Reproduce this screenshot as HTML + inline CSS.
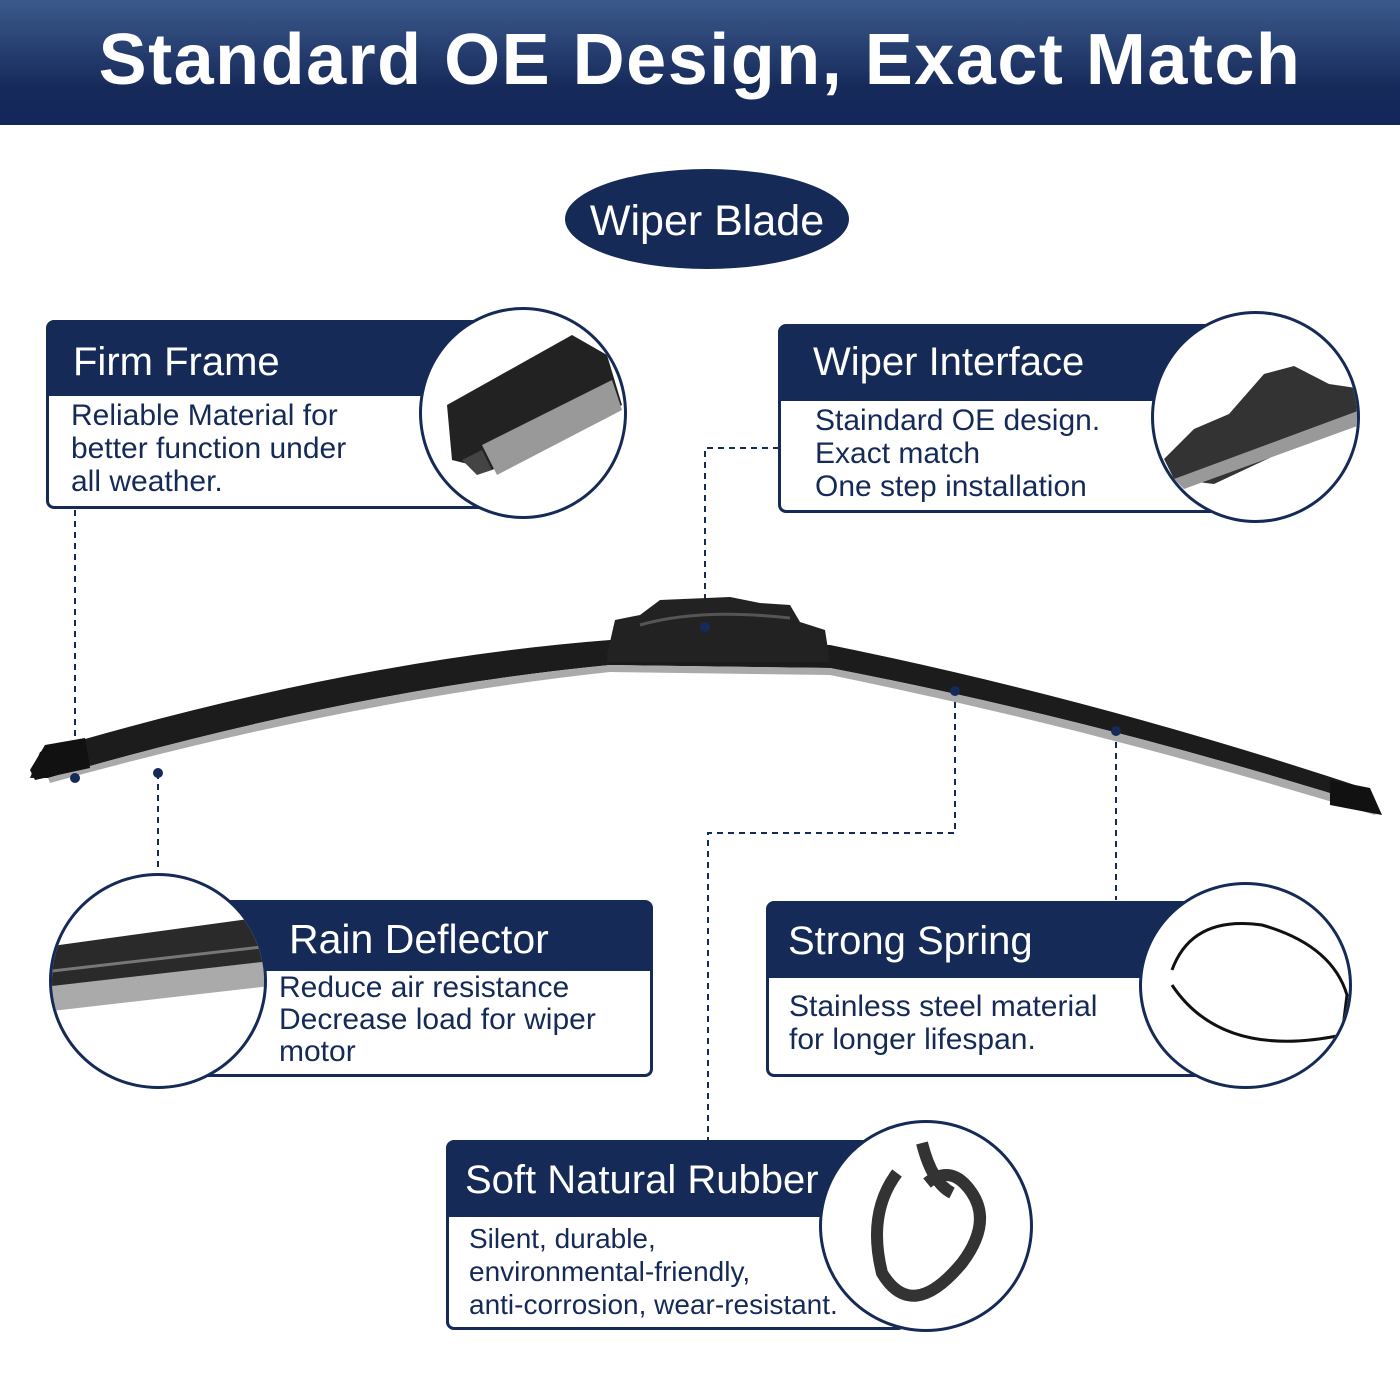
<!DOCTYPE html>
<html><head><meta charset="utf-8"><style>
html,body{margin:0;padding:0;background:#fff;}
body{width:1400px;height:1400px;position:relative;overflow:hidden;font-family:"Liberation Sans",Arial,sans-serif;}
.hdr{position:absolute;left:0;top:0;width:1400px;height:125px;background:linear-gradient(#3b5a8c,#162a5a 70%,#13265a);color:#fff;font-weight:bold;font-size:72px;text-align:center;line-height:120px;letter-spacing:1.5px;}
.box{position:absolute;border:3px solid #162a57;border-radius:8px;background:#fff;box-sizing:border-box;}
.box .t{background:#162a57;color:#fff;font-size:40px;box-sizing:border-box;}
.box .b{color:#162a57;font-size:30px;line-height:33px;}
.circ{position:absolute;border:3px solid #162a57;border-radius:50%;background:#fff;box-sizing:border-box;overflow:hidden;}
svg{position:absolute;left:0;top:0;}
</style></head><body>
<div class="hdr">Standard OE Design, Exact Match</div>
<svg width="1400" height="1400">
<ellipse cx="707" cy="219" rx="142" ry="50" fill="#162a57"/>
<text x="707" y="235" fill="#fff" font-size="43" text-anchor="middle" font-family="Liberation Sans">Wiper Blade</text>
<g stroke="#162a57" stroke-width="2" stroke-dasharray="6,5" fill="none">
<path d="M75 510 V778"/><path d="M158 773 V870"/><path d="M779 448 H705 V627"/>
<path d="M955 691 V833 H708 V1140"/><path d="M1116 731 V900"/>
</g>
<path d="M40 752 Q350 660 610 640 L830 645 Q1100 700 1370 790 L1378 808 Q1100 720 830 668 L610 665 Q350 690 48 778 L30 778 Z" fill="#1c1c1c"/>
<path d="M48 778 Q350 690 610 665 L830 668 Q1100 720 1378 808 L1375 815 Q1100 730 830 675 L610 672 Q350 700 50 783 Z" fill="#aaa"/>
<path d="M30 770 L45 745 L85 738 L90 768 L35 780 Z" fill="#111"/>
<path d="M1330 780 L1370 788 L1382 815 L1330 805 Z" fill="#111"/>
<path d="M607 655 L615 620 L640 615 L660 600 L730 597 L760 603 L790 605 L800 622 L825 630 L830 662 L607 662 Z" fill="#222"/>
<path d="M640 625 Q700 608 790 618" stroke="#555" stroke-width="3" fill="none"/>
<g fill="#162a57"><circle cx="75" cy="778" r="5"/><circle cx="158" cy="773" r="5"/><circle cx="705" cy="627" r="5"/><circle cx="955" cy="691" r="5"/><circle cx="1116" cy="731" r="5"/></g>
</svg>

<div class="box" style="left:46px;top:320px;width:460px;height:189px;">
<div class="t" style="height:73px;padding:17px 0 0 24px;">Firm Frame</div>
<div class="b" style="padding:3px 0 0 22px;">Reliable Material for<br>better function under<br>all weather.</div></div>
<div class="circ" style="left:419px;top:307px;width:208px;height:212px;">
<svg width="208" height="212"><path d="M25 95 L150 25 L185 45 L200 95 L70 160 L30 150 Z" fill="#222"/><path d="M60 135 L190 70 L200 100 L75 165 Z" fill="#999"/><path d="M40 150 L55 165 L70 160 L60 140Z" fill="#444"/></svg></div>

<div class="box" style="left:778px;top:324px;width:440px;height:189px;">
<div class="t" style="height:74px;padding:13px 0 0 32px;">Wiper Interface</div>
<div class="b" style="padding:3px 0 0 34px;">Staindard OE design.<br>Exact match<br>One step installation</div></div>
<div class="circ" style="left:1151px;top:311px;width:209px;height:212px;">
<svg width="209" height="212"><path d="M10 145 L40 115 L75 100 L110 60 L140 52 L175 70 L209 75 L209 100 L60 170 L20 165 Z" fill="#333"/><path d="M20 165 L209 95 L209 110 L30 175Z" fill="#999"/></svg></div>

<div class="box" style="left:200px;top:900px;width:453px;height:177px;">
<div class="t" style="height:68px;padding:13px 0 0 86px;font-size:41px;">Rain Deflector</div>
<div class="b" style="padding:1px 0 0 76px;line-height:32px;">Reduce air resistance<br>Decrease load for wiper<br>motor</div></div>
<div class="circ" style="left:49px;top:873px;width:218px;height:216px;">
<svg width="218" height="216"><path d="M0 70 L218 40 L218 110 L0 130 Z" fill="#2a2a2a"/><path d="M0 110 L218 85 L218 110 L0 135Z" fill="#aaa"/><path d="M0 95 L218 70" stroke="#777" stroke-width="3"/></svg></div>

<div class="box" style="left:766px;top:901px;width:440px;height:176px;">
<div class="t" style="height:74px;padding:15px 0 0 19px;">Strong Spring</div>
<div class="b" style="padding:12px 0 0 20px;line-height:33px;">Stainless steel material<br>for longer lifespan.</div></div>
<div class="circ" style="left:1139px;top:882px;width:213px;height:207px;">
<svg width="213" height="207"><path d="M30 85 Q50 30 120 40 Q190 60 205 110 L200 150 Q80 175 30 100" stroke="#111" stroke-width="3" fill="none"/></svg></div>

<div class="box" style="left:446px;top:1140px;width:460px;height:190px;">
<div class="t" style="height:74px;padding:15px 0 0 16px;">Soft Natural Rubber</div>
<div class="b" style="padding:5px 0 0 20px;font-size:28px;">Silent, durable,<br>environmental-friendly,<br>anti-corrosion, wear-resistant.</div></div>
<div class="circ" style="left:819px;top:1120px;width:214px;height:212px;">
<svg width="214" height="212"><path d="M75 50 Q45 90 60 150 Q90 200 140 140 Q170 100 150 70 Q130 40 105 60 M100 20 Q110 60 130 70" stroke="#333" stroke-width="12" fill="none"/></svg></div>
</body></html>
